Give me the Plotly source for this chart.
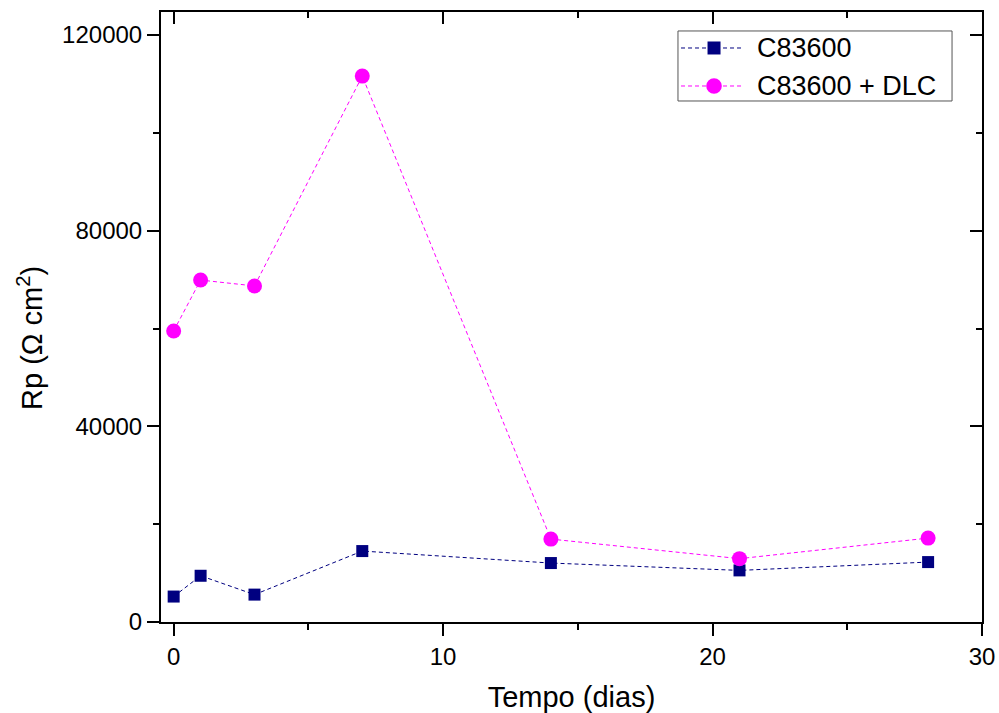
import plotly.graph_objects as go

# Polarization resistance vs immersion time
dias = [0, 1, 3, 7, 14, 21, 28]
rp_c83600 = [5200, 9450, 5600, 14500, 12050, 10550, 12250]
rp_dlc = [59500, 69900, 68700, 111600, 16950, 12950, 17150]
series_names = ["C83600", "C83600 + DLC"]

x_ticks = [0, 10, 20, 30]
x_minor = [5, 15, 25]
y_ticks = [0, 40000, 80000, 120000]
y_ticklabels = ["0", "40000", "80000", "120000"]
y_minor = [20000, 60000, 100000]

x_range = [-0.47, 30]
y_range = [0, 124700]
FONT = "Liberation Sans, Arial, sans-serif"
NAVY = "#000080"
MAGENTA = "#FF00FF"
DASH = "4px,3px"

fig = go.Figure()

fig.add_trace(go.Scatter(
    x=dias, y=rp_c83600, name=series_names[0], mode="lines+markers",
    line=dict(color=NAVY, width=1, dash=DASH),
    marker=dict(symbol="square", size=12, color=NAVY),
))
fig.add_trace(go.Scatter(
    x=dias, y=rp_dlc, name=series_names[1], mode="lines+markers",
    line=dict(color=MAGENTA, width=1, dash=DASH),
    marker=dict(symbol="circle", size=15, color=MAGENTA),
))
# empty trace carrying the top/right frame axes
fig.add_trace(go.Scatter(x=[], y=[], xaxis="x2", yaxis="y2", showlegend=False,
                         hoverinfo="skip"))

tick_common = dict(ticklen=12, tickwidth=2, tickcolor="black",
                   linecolor="black", linewidth=2, showline=True,
                   showgrid=False, zeroline=False, automargin=False)
minor_common = dict(ticklen=6, tickwidth=2, tickcolor="black")

# Legend box drawn in paper coordinates (Origin-style wide sample lines)
leg_x0, leg_x1, leg_y0, leg_y1 = 0.6297, 0.9635, 0.8541, 0.9689
row_y = [0.9410, 0.8787]
line_x0, line_x1, mark_x, text_x = 0.6334, 0.7080, 0.6736, 0.7235

shapes = [dict(type="rect", xref="paper", yref="paper",
               x0=leg_x0, x1=leg_x1, y0=leg_y0, y1=leg_y1,
               line=dict(color="#555555", width=1), fillcolor="white",
               layer="above")]
annotations = []
for name, color, ry, sym in zip(series_names, [NAVY, MAGENTA], row_y,
                                ["rect", "circle"]):
    shapes.append(dict(type="line", xref="paper", yref="paper",
                       x0=line_x0, x1=line_x1, y0=ry, y1=ry,
                       line=dict(color=color, width=1, dash=DASH), layer="above"))
    half = 6.5 if sym == "rect" else 7.8
    shapes.append(dict(type=sym, xref="paper", yref="paper",
                       xsizemode="pixel", ysizemode="pixel",
                       xanchor=mark_x, yanchor=ry,
                       x0=-half, x1=half, y0=-half, y1=half,
                       fillcolor=color, line=dict(color=color, width=0),
                       layer="above"))
    annotations.append(dict(xref="paper", yref="paper", x=text_x, y=ry,
                            xanchor="left", yanchor="middle", showarrow=False,
                            text=name, font=dict(size=27, family=FONT,
                                                 color="black")))

# Y axis title, placed as a rotated annotation
annotations.append(dict(xref="paper", yref="paper", x=-0.1596, y=0.4656,
                        xanchor="center", yanchor="middle", showarrow=False,
                        textangle=-90, text="Rp (Ω cm<sup>2</sup>)",
                        font=dict(size=29, family=FONT, color="black")))

fig.update_layout(
    width=999, height=713,
    margin=dict(l=161, r=17, t=12, b=91, autoexpand=False),
    paper_bgcolor="white", plot_bgcolor="white",
    font=dict(family=FONT, color="black", size=23),
    showlegend=False,
    shapes=shapes,
    annotations=annotations,
    xaxis=dict(
        range=x_range, tickmode="array", tickvals=x_ticks,
        ticks="outside", mirror=False,
        minor=dict(ticks="outside", tickvals=x_minor, **minor_common),
        title=dict(text="Tempo (dias)", font=dict(size=29), standoff=20),
        tickfont=dict(size=24),
        **tick_common,
    ),
    yaxis=dict(
        range=y_range, tickmode="array", tickvals=y_ticks, ticktext=y_ticklabels,
        ticks="outside", mirror=False,
        minor=dict(ticks="outside", tickvals=y_minor, **minor_common),
        tickfont=dict(size=24),
        **tick_common,
    ),
    xaxis2=dict(
        range=x_range, overlaying="x", side="top", anchor="y2",
        tickmode="array", tickvals=x_ticks, ticks="inside",
        showticklabels=False,
        minor=dict(ticks="inside", tickvals=x_minor, **minor_common),
        **tick_common,
    ),
    yaxis2=dict(
        range=y_range, overlaying="y", side="right", anchor="x2",
        tickmode="array", tickvals=y_ticks, ticks="inside",
        showticklabels=False,
        minor=dict(ticks="inside", tickvals=y_minor, **minor_common),
        **tick_common,
    ),
)

fig.write_html("out.html")
